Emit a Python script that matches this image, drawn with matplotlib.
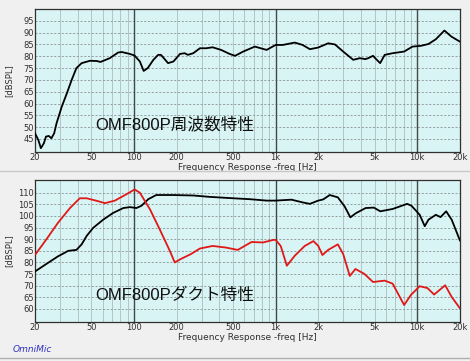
import numpy as np
import matplotlib
matplotlib.use("Agg")
import matplotlib.pyplot as plt
from matplotlib.ticker import FixedLocator, NullFormatter

# --- data ---
top_freq = [20, 21.1, 22, 23.1, 23.9, 25, 26.1, 27.3, 28.4, 30.9, 33.6, 36.3, 39.2, 42.7,
            48.9, 54.6, 58, 67.4, 77.3, 82, 93.5, 101, 110, 117, 125, 137, 148, 155, 174,
            190, 211, 228, 240, 262, 292, 323, 359, 412, 473, 517, 590, 713, 864, 1000,
            1124, 1365, 1550, 1745, 1997, 2350, 2625, 3000, 3530, 3930, 4300, 4500, 4870,
            5180, 5470, 5890, 6700, 8080, 9250, 10560, 12000, 13520, 15550, 17450, 20000]
top_spl = [47.4, 44.6, 41.1, 43.2, 46.0, 46.3, 45.3, 47.4, 51.7, 58.7, 64.4, 70.0, 75.0, 77.1,
           78.1, 78.0, 77.6, 79.2, 81.6, 81.8, 81.0, 80.3, 77.8, 73.8, 75.0, 78.5, 80.6, 80.6,
           77.1, 77.8, 81.0, 81.3, 80.6, 81.3, 83.4, 83.4, 83.8, 82.7, 81.0, 80.2, 82.0, 84.1,
           82.7, 84.8, 84.8, 85.8, 84.8, 83.0, 83.7, 85.5, 85.0, 82.0, 78.5, 79.2, 78.8, 79.2,
           80.2, 78.5, 77.1, 80.6, 81.3, 82.0, 84.1, 84.4, 85.2, 87.2, 90.9, 88.3, 86.2]

bot_freq_k = [20.2, 24.1, 29, 34.3, 39.2, 42.7, 46.3, 51.5, 60.6, 71.2, 84, 93.5, 104, 113,
              126, 143.5, 188, 262, 343, 503, 660, 864, 1000, 1293, 1560, 1745, 1997, 2165,
              2410, 2750, 3070, 3370, 3690, 4320, 4930, 5480, 6700, 8480, 9100, 10400, 11300,
              12000, 13520, 14600, 16000, 17500, 20000]
bot_spl_k = [76.3, 79.4, 82.6, 85.0, 85.4, 87.8, 91.4, 94.9, 98.4, 101.3, 103.4, 103.8, 103.4,
             104.4, 107.2, 109.0, 109.0, 108.8, 108.2, 107.6, 107.2, 106.6, 106.6, 107.0, 105.8,
             105.2, 106.6, 107.1, 109.0, 108.0, 104.1, 99.4, 101.2, 103.4, 103.6, 102.0, 103.0,
             105.2, 104.4, 100.5, 95.6, 98.4, 100.5, 99.5, 102.0, 98.4, 89.5]

bot_freq_r = [20.2, 24.1, 29, 35.3, 41.4, 46.3, 54.6, 62.3, 73.3, 86.5, 101, 110, 130, 152,
              179, 194, 214, 252, 292, 359, 447, 540, 676, 815, 960, 1000, 1086, 1200, 1365,
              1605, 1850, 2000, 2140, 2350, 2750, 3000, 3340, 3660, 4230, 4870, 5890, 6700,
              8080, 9010, 10400, 11800, 13150, 15750, 17450, 20000]
bot_spl_r = [83.6, 90.0, 97.0, 103.4, 107.6, 107.6, 106.5, 105.5, 106.6, 109.0, 111.4, 110.0,
             102.7, 94.2, 85.0, 80.0, 81.5, 83.6, 86.0, 87.1, 86.4, 85.4, 88.8, 88.6, 89.7,
             89.7, 87.1, 78.6, 82.9, 87.1, 89.2, 87.1, 83.2, 85.4, 87.8, 83.6, 74.2, 77.2,
             75.1, 71.6, 72.2, 70.9, 61.7, 66.0, 69.8, 69.0, 66.2, 70.2, 65.3, 60.3]

x_ticks = [20, 50, 100, 200, 500, 1000, 2000, 5000, 10000, 20000]
x_labels = ['20', '50', '100', '200', '500', '1k', '2k', '5k', '10k', '20k']
top_yticks = list(range(45, 100, 5))
bot_yticks = list(range(60, 115, 5))

bg = '#f0f0f0'
face = '#d9f4f4'
jp_font = ['Liberation Sans', 'Noto Sans CJK JP']

fig = plt.figure(figsize=(4.70, 3.61), dpi=100, facecolor=bg)


def style_axes(ax, yticks, ylim, xlab_y):
    ax.set_facecolor(face)
    ax.set_xscale('log')
    ax.set_xlim(20, 20000)
    ax.set_ylim(*ylim)
    minor = [m * 10 ** e for e in range(1, 5) for m in range(2, 10)]
    minor = [v for v in minor if 20 < v < 20000]
    for v in minor:
        ax.axvline(v, color='#b4c4c4', lw=0.7, zorder=1)
    for v in [100, 1000, 10000]:
        ax.axvline(v, color='#404848', lw=1.0, zorder=2)
    for v in yticks:
        ax.axhline(v, color='#8a9494', lw=0.6, ls=(0, (2.5, 2)), zorder=1)
    ax.xaxis.set_major_locator(FixedLocator(x_ticks))
    ax.xaxis.set_minor_locator(FixedLocator([]))
    ax.xaxis.set_minor_formatter(NullFormatter())
    ax.set_xticklabels(x_labels)
    ax.set_yticks(yticks)
    ax.tick_params(length=0, labelsize=6, colors='#303030', pad=1)
    for s in ax.spines.values():
        s.set_color('#303030')
        s.set_linewidth(0.9)
    ax.set_ylabel('[dBSPL]', fontsize=6, color='#303030')
    ax.yaxis.set_label_coords(-0.052, 0.5)
    ax.set_xlabel('Frequency Response -freq [Hz]', fontsize=6.5, color='#303030')
    ax.xaxis.set_label_coords(0.5, xlab_y)


ax1 = fig.add_axes([0.0745, 0.579, 0.904, 0.396])
style_axes(ax1, top_yticks, (39.5, 100), -0.075)
ax1.plot(top_freq, top_spl, color='black', lw=1.3, zorder=3)
ax1.text(0.141, 0.19, 'OMF800P周波数特性', transform=ax1.transAxes, fontsize=12,
         family=jp_font, color='#101010', va='center', zorder=4)

ax2 = fig.add_axes([0.0745, 0.108, 0.904, 0.393])
style_axes(ax2, bot_yticks, (54.4, 115.4), -0.078)
ax2.plot(bot_freq_k, bot_spl_k, color='black', lw=1.3, zorder=3)
ax2.plot(bot_freq_r, bot_spl_r, color='#e01818', lw=1.3, zorder=3)
ax2.text(0.141, 0.19, 'OMF800Pダクト特性', transform=ax2.transAxes, fontsize=12,
         family=jp_font, color='#101010', va='center', zorder=4)

# separator between panels and footer label
fig.add_artist(plt.Line2D([0.0, 1.0], [1 - 171 / 361, 1 - 171 / 361], color='#c8c8c8', lw=1.0))
fig.add_artist(plt.Line2D([0.0, 1.0], [1 - 358 / 361, 1 - 358 / 361], color='#b0b0b0', lw=1.0))
fig.text(13 / 470, 1 - 350 / 361, 'OmniMic', fontsize=6.5, style='italic', color='#3030c0',
         va='center')

fig.savefig('out.png', dpi=100, facecolor=bg)
